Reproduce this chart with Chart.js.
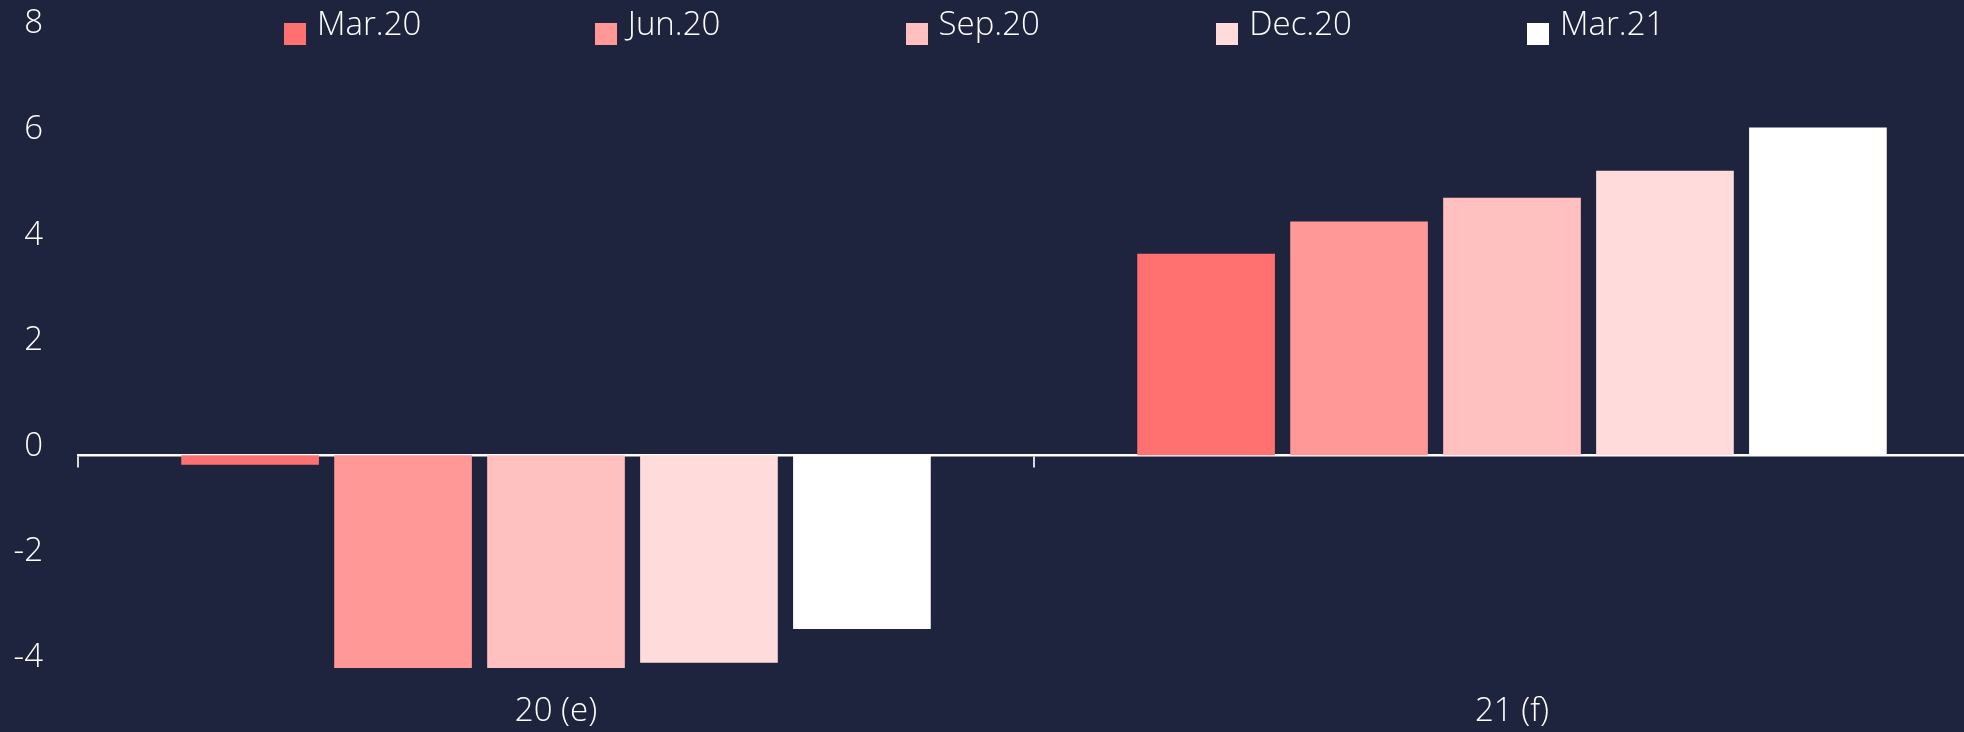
<!DOCTYPE html>
<html>
<head>
<meta charset="utf-8">
<script src="https://cdn.jsdelivr.net/npm/chart.js@4.4.0/dist/chart.umd.min.js"></script>
<style>
    html, body { margin: 0; padding: 0; background: #1f243e; overflow: hidden; }
    #wrap { position: relative; width: 1990px; height: 732px; }
    #legend {
        position: absolute; top: 3px; left: 284px; display: flex;
        font-family: 'Open Sans', sans-serif; font-weight: 300; font-size: 33px;
        line-height: 40px; color: #ffffff;
    }
    .legend-item { width: 310.75px; display: flex; align-items: flex-start; }
    .legend-box { width: 22px; height: 22px; margin-top: 20px; margin-right: 11px; }
</style>
</head>
<body>
<div id="wrap">
    <canvas id="gdpChart"></canvas>
    <div id="legend"></div>
</div>
<script>
// Categories and series
const categories = ['20 (e)', '21 (f)'];
const seriesNames = ['Mar.20', 'Jun.20', 'Sep.20', 'Dec.20', 'Mar.21'];
const seriesColors = ['#ff7170', '#ff9896', '#ffc0bf', '#ffdcdb', '#ffffff'];

const mar20 = [-0.18, 3.82];
const jun20 = [-4.03, 4.43];
const sep20 = [-4.03, 4.88];
const dec20 = [-3.93, 5.39];
const mar21 = [-3.29, 6.21];

const yMin = -4;
const yMax = 8;
const yStep = 2;

const seriesValues = [mar20, jun20, sep20, dec20, mar21];

const textColor = '#ffffff';
const fontFamily = "'Open Sans', sans-serif";

// HTML legend
const legend = document.getElementById('legend');
seriesNames.forEach((name, i) => {
    const item = document.createElement('div');
    item.className = 'legend-item';
    item.innerHTML = `<span class="legend-box" style="background:${seriesColors[i]}"></span><span>${name}</span>`;
    legend.appendChild(item);
});

const ctx = document.getElementById('gdpChart');
new Chart(ctx, {
    type: 'bar',
    data: {
        labels: categories,
        datasets: seriesNames.map((name, i) => ({
            label: name,
            data: seriesValues[i],
            backgroundColor: seriesColors[i],
            borderWidth: 0,
            clip: false
        }))
    },
    options: {
        responsive: true,
        maintainAspectRatio: false,
        animation: false,
        layout: { padding: { top: 33, bottom: 0, left: 0, right: 0 } },
        plugins: {
            legend: { display: false },
            tooltip: { enabled: false }
        },
        scales: {
            x: {
                position: { y: 0 },
                offset: true,
                grid: {
                    offset: true,
                    drawOnChartArea: false,
                    drawTicks: true,
                    tickLength: 11,
                    color: '#d9d9d9',
                    lineWidth: 2
                },
                border: { display: true, color: '#ffffff', width: 2.5 },
                ticks: { display: false }
            },
            x2: {
                type: 'category',
                position: 'bottom',
                offset: true,
                grid: { display: false, drawTicks: false },
                border: { display: false },
                ticks: {
                    color: textColor,
                    padding: 25,
                    font: { family: fontFamily, size: 33, weight: '300' }
                },
                afterFit: (scale) => { scale.height = 65.5; }
            },
            y: {
                min: yMin,
                max: yMax,
                grid: { display: false, drawTicks: true, tickLength: 30 },
                border: { display: false },
                ticks: {
                    stepSize: yStep,
                    padding: 5,
                    labelOffset: -9,
                    color: textColor,
                    font: { family: fontFamily, size: 33, weight: '300' }
                },
                afterFit: (scale) => { scale.width = 78; }
            }
        }
    }
});
</script>
</body>
</html>
